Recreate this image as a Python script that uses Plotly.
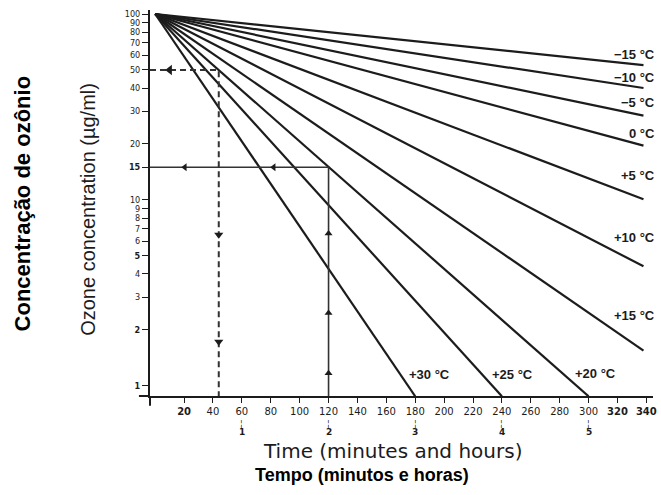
import numpy as np
import plotly.graph_objects as go

# ---- data -------------------------------------------------------------
temps = ["−15 °C", "−10 °C", "−5 °C", "0 °C", "+5 °C",
         "+10 °C", "+15 °C", "+20 °C", "+25 °C", "+30 °C"]
start_time = 0
start_conc = 100
end_time = [338, 338, 338, 338, 338, 338, 338, 300, 240, 180]
end_conc = [53.1, 40.0, 28.4, 19.6, 10.1, 4.4, 1.55, 0.88, 0.88, 0.88]

# label anchor (minutes, concentration) for each temperature label
label_time = [338, 338, 338, 338, 338, 338, 338, 305, 247, 190]
label_conc = [60.3, 45.8, 33.6, 22.9, 13.6, 6.3, 2.38, 1.17, 1.15, 1.15]

x_ticks = [20, 40, 60, 80, 100, 120, 140, 160, 180, 200, 220, 240, 260,
           280, 300, 320, 340]
x_bold = [20, 320, 340]
hour_minutes = [60, 120, 180, 240, 300]
hour_labels = ["1", "2", "3", "4", "5"]

y_ticks = [100, 90, 80, 70, 60, 50, 40, 30, 20, 15, 10, 9, 8, 7, 6, 5, 4, 3, 2, 1]
y_bold = [15, 5, 2, 1]

# worked examples (guide lines)
ex1_time, ex1_conc = 120, 15      # solid guide
ex2_time, ex2_conc = 44, 50       # dashed guide
ex1_up_arrows = [1.17, 2.47, 6.6]
ex1_left_arrows = [20.5, 82]
ex2_down_arrows = [6.5, 1.73]
ex2_left_arrows = [10]

X_RANGE = [-3.6, 344.6]
Y_LOG_RANGE = [-0.054, 2.0215]
y_bottom = 10 ** Y_LOG_RANGE[0]

INK = "#1c1c1c"
fig = go.Figure()

for name, t1, c1 in zip(temps, end_time, end_conc):
    fig.add_trace(go.Scatter(x=[start_time, t1], y=[start_conc, c1], mode="lines",
                             line=dict(color=INK, width=2.2), name=name,
                             showlegend=False, hoverinfo="skip"))

# solid guide at 120 min / 15
fig.add_trace(go.Scatter(x=[X_RANGE[0], ex1_time, ex1_time],
                         y=[ex1_conc, ex1_conc, y_bottom], mode="lines",
                         line=dict(color="#333333", width=1.6),
                         showlegend=False, hoverinfo="skip"))
# dashed guide at 44 min / 50
fig.add_trace(go.Scatter(x=[X_RANGE[0], ex2_time, ex2_time],
                         y=[ex2_conc, ex2_conc, y_bottom], mode="lines",
                         line=dict(color="#333333", width=2, dash="6px,4px"),
                         showlegend=False, hoverinfo="skip"))

# arrow heads
fig.add_trace(go.Scatter(x=[ex1_time] * len(ex1_up_arrows), y=ex1_up_arrows,
                         mode="markers", marker=dict(symbol="triangle-up", size=7, color=INK),
                         showlegend=False, hoverinfo="skip"))
fig.add_trace(go.Scatter(x=ex1_left_arrows, y=[ex1_conc] * len(ex1_left_arrows),
                         mode="markers", marker=dict(symbol="triangle-left", size=7, color=INK),
                         showlegend=False, hoverinfo="skip"))
fig.add_trace(go.Scatter(x=[ex2_time] * len(ex2_down_arrows), y=ex2_down_arrows,
                         mode="markers", marker=dict(symbol="triangle-down", size=8, color=INK),
                         showlegend=False, hoverinfo="skip"))
fig.add_trace(go.Scatter(x=ex2_left_arrows, y=[ex2_conc] * len(ex2_left_arrows),
                         mode="markers", marker=dict(symbol="triangle-left", size=9, color=INK),
                         showlegend=False, hoverinfo="skip"))

annotations = []
for name, lt, lc in zip(temps, label_time, label_conc):
    right = lt >= 338
    annotations.append(dict(x=lt, y=np.log10(lc), xref="x", yref="y", text="<b>" + name + "</b>",
                            showarrow=False, xanchor="right" if right else "center",
                            xshift=14 if right else 0, yanchor="middle",
                            font=dict(family="Liberation Sans, Arial", size=13, color=INK)))

for m, h in zip(hour_minutes, hour_labels):
    annotations.append(dict(x=m, y=0, xref="x", yref="paper", text="¦", showarrow=False,
                            yanchor="middle", yshift=-27,
                            font=dict(family="DejaVu Sans", size=8, color=INK)))
    annotations.append(dict(x=m, y=0, xref="x", yref="paper", text="<b>" + h + "</b>",
                            showarrow=False, yanchor="middle", yshift=-36,
                            font=dict(family="DejaVu Sans", size=9, color=INK)))

annotations += [
    dict(x=-0.122, y=0.484, xref="paper", yref="paper", text="Ozone concentration (µg/ml)",
         textangle=-90, showarrow=False, xanchor="center", yanchor="middle",
         font=dict(family="Liberation Sans, Arial", size=20, color=INK)),
    dict(x=-0.254, y=0.497, xref="paper", yref="paper", text="<b>Concentração de ozônio</b>",
         textangle=-90, showarrow=False, xanchor="center", yanchor="middle",
         font=dict(family="Liberation Sans, Arial", size=22, color="#000000")),
    dict(x=0.483, y=-0.143, xref="paper", yref="paper", text="Time (minutes and hours)",
         showarrow=False, xanchor="center", yanchor="middle",
         font=dict(family="DejaVu Sans, Arial", size=20, color=INK)),
    dict(x=0.422, y=-0.205, xref="paper", yref="paper", text="<b>Tempo (minutos e horas)</b>",
         showarrow=False, xanchor="center", yanchor="middle",
         font=dict(family="Liberation Sans, Arial", size=18, color="#000000")),
]

shapes = [
    dict(type="line", xref="paper", yref="paper", x0=-0.022, x1=0, y0=0, y1=0,
         line=dict(color=INK, width=2)),
    dict(type="line", xref="paper", yref="paper", x0=0, x1=0, y0=-0.025, y1=0,
         line=dict(color=INK, width=2)),
]

fig.update_layout(
    width=661, height=495,
    margin=dict(l=150, r=4, t=10, b=99),
    paper_bgcolor="white", plot_bgcolor="white",
    annotations=annotations, shapes=shapes,
    xaxis=dict(range=X_RANGE, showgrid=False, zeroline=False, showline=True,
               linecolor=INK, linewidth=2, ticks="outside", ticklen=5, tickwidth=1.3,
               tickcolor=INK, tickvals=x_ticks,
               ticktext=[("<b>%d</b>" % v) if v in x_bold else str(v) for v in x_ticks],
               tickfont=dict(family="DejaVu Sans", size=10, color=INK)),
    yaxis=dict(type="log", range=Y_LOG_RANGE, showgrid=False, zeroline=False, showline=True,
               linecolor=INK, linewidth=2, ticks="outside", ticklen=6, tickwidth=1.3,
               tickcolor=INK, tickvals=y_ticks,
               ticktext=[("<b>%d</b>" % v) if v in y_bold else str(v) for v in y_ticks],
               tickfont=dict(family="DejaVu Sans Condensed, DejaVu Sans", size=9, color=INK)),
)

fig.write_html("out.html")
